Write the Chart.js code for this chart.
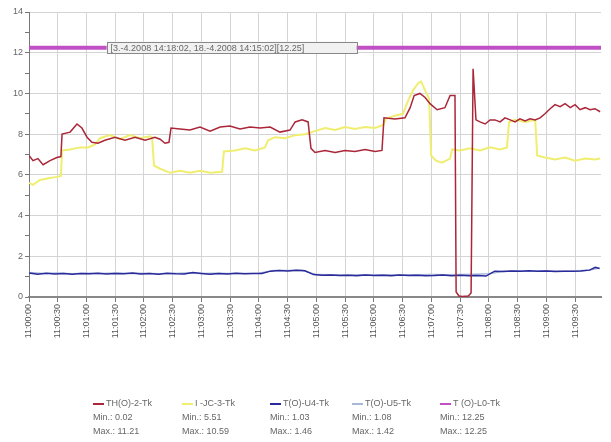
<!DOCTYPE html>
<html lang="en">
<head>
<meta charset="UTF-8">
<title>Trend</title>
<script src="https://cdn.jsdelivr.net/npm/chart.js"></script>
<style>
  html, body { margin: 0; padding: 0; background: #fff; }
  canvas { display: block; }
</style>
</head>
<body>
<canvas id="trend" width="611" height="442"></canvas>
<script>
// tick labels on the time axis (one every grid line)
const timeLabels = ['11:00:00','11:00:30','11:01:00','11:01:30','11:02:00','11:02:30','11:03:00','11:03:30','11:04:00','11:04:30',
                    '11:05:00','11:05:30','11:06:00','11:06:30','11:07:00','11:07:30','11:08:00','11:08:30','11:09:00','11:09:30'];

// series, x in grid-line units
const redX = [0.00,0.14,0.31,0.49,0.73,0.97,1.11,1.15,1.43,1.67,1.84,2.02,2.19,2.40,2.64,2.99,3.34,3.69,4.04,4.38,4.56,4.73,4.87,4.94,
  5.25,5.60,5.95,6.30,6.65,6.99,7.34,7.69,8.04,8.39,8.73,9.08,9.26,9.50,9.71,9.81,9.95,10.30,10.65,10.99,11.34,11.69,12.04,12.28,12.35,
  12.73,13.08,13.26,13.40,13.60,13.78,13.95,14.20,14.47,14.65,14.82,14.86,14.96,15.07,15.28,15.38,15.45,15.55,15.69,15.87,16.04,16.21,
  16.39,16.56,16.74,16.91,17.08,17.26,17.43,17.61,17.78,17.95,18.13,18.30,18.48,18.65,18.83,19.00,19.17,19.35,19.52,19.69,19.87];
const redY = [6.95,6.7,6.8,6.5,6.7,6.85,6.9,8.0,8.1,8.5,8.3,7.85,7.6,7.55,7.7,7.85,7.7,7.85,7.7,7.85,7.75,7.55,7.6,8.3,
  8.25,8.2,8.35,8.15,8.35,8.4,8.25,8.35,8.3,8.35,8.1,8.2,8.6,8.7,8.6,7.3,7.1,7.2,7.1,7.2,7.15,7.25,7.15,7.2,8.8,
  8.75,8.8,9.3,9.9,10.0,9.8,9.5,9.2,9.3,9.9,9.9,0.25,0.05,0.02,0.05,0.2,11.21,8.7,8.6,8.5,8.7,8.7,
  8.6,8.8,8.7,8.6,8.75,8.65,8.75,8.7,8.8,9.0,9.25,9.45,9.35,9.5,9.3,9.45,9.2,9.3,9.2,9.25,9.1];

const yellowX = [0.00,0.14,0.38,0.73,0.97,1.11,1.15,1.43,1.77,2.05,2.30,2.47,2.82,3.17,3.51,3.86,4.21,4.28,4.35,4.56,4.91,5.25,5.60,
  5.95,6.30,6.72,6.78,7.17,7.52,7.86,8.21,8.32,8.56,8.91,9.26,9.60,9.95,10.30,10.65,10.99,11.34,11.69,12.04,12.32,12.42,12.73,13.01,
  13.19,13.36,13.54,13.64,13.78,13.92,13.99,14.16,14.37,14.65,14.72,15.00,15.34,15.69,16.04,16.39,16.63,16.70,16.91,17.26,17.61,
  17.68,17.95,18.30,18.65,19.00,19.35,19.69,19.87];
const yellowY = [5.6,5.51,5.75,5.85,5.9,5.95,7.2,7.25,7.35,7.35,7.5,7.8,7.95,7.75,7.95,7.8,7.9,7.85,6.45,6.3,6.1,6.2,6.1,
  6.2,6.1,6.15,7.15,7.2,7.3,7.2,7.35,7.7,7.85,7.8,7.95,8.0,8.15,8.3,8.2,8.35,8.25,8.35,8.3,8.45,8.75,8.9,9.0,
  9.65,10.15,10.5,10.59,10.15,9.75,6.95,6.7,6.6,6.8,7.25,7.2,7.3,7.2,7.35,7.25,7.35,8.6,8.7,8.6,8.7,
  6.95,6.85,6.75,6.85,6.7,6.8,6.75,6.8];

const blueX = [0.0,0.3,0.6,0.9,1.2,1.5,1.8,2.1,2.4,2.7,3.0,3.3,3.6,3.9,4.2,4.5,4.8,5.1,5.4,5.7,6.0,6.3,6.6,6.9,7.2,7.5,7.8,8.1,
  8.4,8.7,9.0,9.3,9.6,9.9,10.2,10.5,10.8,11.1,11.4,11.7,12.0,12.3,12.6,12.9,13.2,13.5,13.8,14.1,14.4,14.7,15.0,15.3,15.6,15.9,
  16.2,16.5,16.8,17.1,17.4,17.7,18.0,18.3,18.6,18.9,19.2,19.5,19.7,19.85];
const blueY = [1.18,1.12,1.17,1.13,1.15,1.12,1.16,1.14,1.17,1.13,1.16,1.14,1.18,1.13,1.15,1.12,1.17,1.14,1.13,1.2,1.16,1.12,1.15,1.13,1.17,1.14,1.16,1.15,
  1.27,1.3,1.28,1.32,1.29,1.1,1.07,1.08,1.06,1.07,1.05,1.08,1.06,1.07,1.05,1.08,1.06,1.07,1.05,1.06,1.08,1.05,1.07,1.04,1.05,1.03,
  1.27,1.25,1.28,1.26,1.29,1.27,1.28,1.25,1.27,1.26,1.28,1.32,1.46,1.4];

const paleX = [0,0.5,1,1.5,2,2.5,3,3.5,4,4.5,5,5.5,6,6.5,7,7.5,8,8.5,9,9.5,10,10.5,11,11.5,12,12.5,13,13.5,14,14.5,15,15.5,16,16.5,
  17,17.5,18,18.5,19,19.5,19.85];
const paleY = [1.2,1.15,1.18,1.14,1.17,1.15,1.18,1.16,1.17,1.14,1.16,1.18,1.15,1.17,1.15,1.16,1.17,1.3,1.3,1.31,1.1,1.09,1.08,1.09,
  1.08,1.09,1.08,1.09,1.1,1.09,1.1,1.12,1.14,1.27,1.28,1.27,1.29,1.27,1.28,1.33,1.42];

const limitX = [0, 19.9];
const limitY = [12.25, 12.25];

const seriesNames = ['TH(O)-2-Tk', 'I -JC-3-Tk', 'T(O)-U4-Tk', 'T(O)-U5-Tk', 'T (O)-L0-Tk'];
const seriesColors = ['#aa2638', '#f0ee70', '#2a2a9a', '#a9b8d8', '#c050c4'];
const legendMin = ['Min.: 0.02', 'Min.: 5.51', 'Min.: 1.03', 'Min.: 1.08', 'Min.: 12.25'];
const legendMax = ['Max.: 11.21', 'Max.: 10.59', 'Max.: 1.46', 'Max.: 1.42', 'Max.: 12.25'];
const legendLeft = [93, 182, 270, 352, 440];

const boxText = '[3.-4.2008 14:18:02, 18.-4.2008 14:15:02][12.25]';
const boxAt = 2.7;

const FONT = '"Liberation Sans", Arial, sans-serif';

function pts(xs, ys) { return xs.map((x, i) => ({ x: x, y: ys[i] })); }

const labelBox = {
  id: 'labelBox',
  afterDatasetsDraw(chart) {
    const { ctx, scales } = chart;
    const px = scales.x.getPixelForValue(boxAt);
    const py = scales.y.getPixelForValue(limitY[0]);
    ctx.save();
    ctx.fillStyle = '#f1f1f1';
    ctx.fillRect(px, py - 6, 250, 12);
    ctx.strokeStyle = '#888';
    ctx.lineWidth = 1;
    ctx.strokeRect(Math.round(px) + 0.5, Math.round(py - 6) + 0.5, 250, 11);
    ctx.fillStyle = '#666';
    ctx.font = '9px ' + FONT;
    ctx.textBaseline = 'middle';
    ctx.fillText(boxText, px + 4, py + 0.5);
    ctx.restore();
  }
};

const bottomLegend = {
  id: 'bottomLegend',
  afterDraw(chart) {
    const ctx = chart.ctx;
    ctx.save();
    ctx.font = '9px ' + FONT;
    ctx.textBaseline = 'middle';
    seriesNames.forEach((name, i) => {
      const x = legendLeft[i];
      ctx.strokeStyle = seriesColors[i];
      ctx.lineWidth = 2;
      ctx.beginPath();
      ctx.moveTo(x, 404); ctx.lineTo(x + 11, 404);
      ctx.stroke();
      ctx.fillStyle = '#666';
      ctx.fillText(name, x + 13, 404);
      ctx.fillText(legendMin[i], x, 418);
      ctx.fillText(legendMax[i], x, 432);
    });
    ctx.restore();
  }
};

new Chart(document.getElementById('trend'), {
  type: 'line',
  data: {
    datasets: [
      { label: seriesNames[0], data: pts(redX, redY), borderColor: seriesColors[0], borderWidth: 1.5 },
      { label: seriesNames[1], data: pts(yellowX, yellowY), borderColor: seriesColors[1], borderWidth: 2 },
      { label: seriesNames[2], data: pts(blueX, blueY), borderColor: seriesColors[2], borderWidth: 1.5 },
      { label: seriesNames[3], data: pts(paleX, paleY), borderColor: seriesColors[3], borderWidth: 1.5 },
      { label: seriesNames[4], data: pts(limitX, limitY), borderColor: seriesColors[4], borderWidth: 4 }
    ]
  },
  options: {
    responsive: false,
    animation: false,
    devicePixelRatio: 1,
    elements: { point: { radius: 0 }, line: { tension: 0 } },
    layout: { padding: { top: 12, right: 10 } },
    plugins: { legend: { display: false }, tooltip: { enabled: false } },
    scales: {
      x: {
        type: 'linear', min: 0, max: 19.9,
        afterFit: s => { s.height = 145; },
        afterBuildTicks: s => { s.ticks = timeLabels.map((_, i) => ({ value: i })); },
        ticks: {
          autoSkip: false, maxRotation: 90, minRotation: 90, padding: 2,
          color: '#555', font: { size: 9, family: FONT },
          callback: v => timeLabels[v]
        },
        grid: { color: '#d4d4d4', lineWidth: 1, tickLength: 5, tickColor: '#777' },
        border: { color: '#888', width: 2 }
      },
      y: {
        min: 0, max: 14,
        afterFit: s => { s.width = 29; },
        ticks: {
          stepSize: 1, padding: 2, color: '#666', font: { size: 9, family: FONT },
          callback: v => (v % 2 === 0 ? String(v) : '')
        },
        grid: {
          color: c => (c.tick && c.tick.value % 2 === 0 && c.tick.value > 0 ? '#d4d4d4' : 'rgba(0,0,0,0)'),
          tickColor: '#777', tickLength: 4
        },
        border: { color: '#777', width: 1 }
      }
    }
  },
  plugins: [labelBox, bottomLegend]
});
</script>
</body>
</html>
